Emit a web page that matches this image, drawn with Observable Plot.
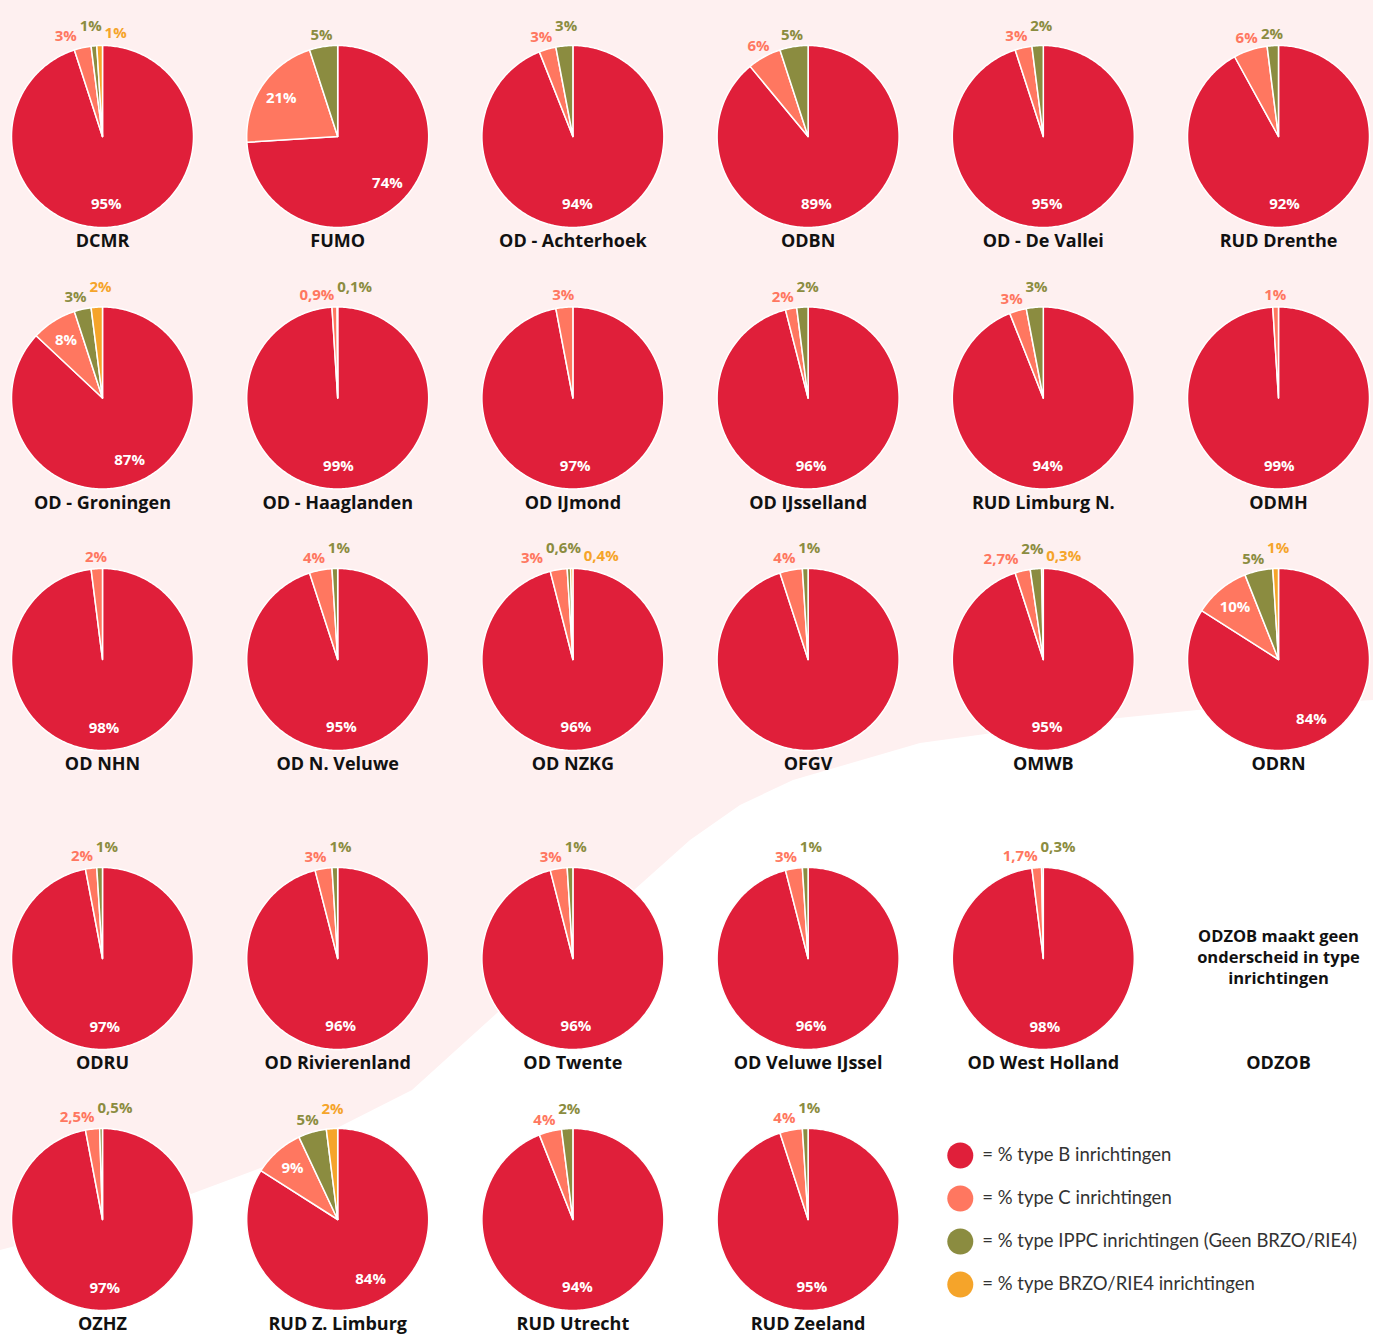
<!DOCTYPE html>
<html><head><meta charset="utf-8">
<script src="https://cdn.jsdelivr.net/npm/d3@7"></script>
<script src="https://cdn.jsdelivr.net/npm/@observablehq/plot@0.6"></script>
<style>
body{margin:0;background:#fff;}
#wrap{position:relative;width:1373px;height:1334px;overflow:hidden;}
#blob{position:absolute;left:0;top:0;width:1373px;height:1334px;background:#FEF0F0;
clip-path:polygon(0 0,1373px 0,1373px 700px,1197px 710px,1050px 725px,920px 743px,793px 780px,740px 805px,690px 840px,550px 965px,412px 1090px,333px 1130px,263px 1167px,175px 1200px,88px 1227px,0 1250px);}
#chart{position:absolute;left:0;top:0;}
</style></head>
<body><div id="wrap"><div id="blob"></div><div id="chart"></div></div>
<script>
// ---- data ----
const organisations = ["DCMR","FUMO","OD - Achterhoek","ODBN","OD - De Vallei","RUD Drenthe",
  "OD - Groningen","OD - Haaglanden","OD IJmond","OD IJsselland","RUD Limburg N.","ODMH",
  "OD NHN","OD N. Veluwe","OD NZKG","OFGV","OMWB","ODRN",
  "ODRU","OD Rivierenland","OD Twente","OD Veluwe IJssel","OD West Holland","ODZOB",
  "OZHZ","RUD Z. Limburg","RUD Utrecht","RUD Zeeland"];
const typeB    = [95,74,94,89,95,92, 87,99,97,96,94,99, 98,95,96,95,95,84, 97,96,96,96,98,null, 97,84,94,95];
const typeC    = [3,21,3,6,3,6, 8,0.9,3,2,3,1, 2,4,3,4,2.7,10, 2,3,3,3,1.7,null, 2.5,9,4,4];
const typeIPPC = [1,5,3,5,2,2, 3,0.1,0,2,3,0, 0,1,0.6,1,2,5, 1,1,1,1,0.3,null, 0.5,5,2,1];
const typeBRZO = [1,0,0,0,0,0, 2,0,0,0,0,0, 0,0,0.4,0,0.3,1, 0,0,0,0,0,null, 0,2,0,0];
const types = ["% type B inrichtingen","% type C inrichtingen","% type IPPC inrichtingen (Geen BRZO/RIE4)","% type BRZO/RIE4 inrichtingen"];
const colors = ["#E01F3A","#FF7760","#8B8C40","#F5A42A"];
const noDataNote = "ODZOB maakt geen\nonderscheid in type\ninrichtingen";
const hiddenMainLabel = ["OFGV"];

// ---- layout ----
const W = 1373, H = 1334, R = 91;
const colX = c => 102 + c * 235.2;
const rowY = [136, 397.5, 659, 958, 1219];
const fmt = v => (Number.isInteger(v) ? v : v.toFixed(1).replace(".", ",")) + "%";
const textW = s => [...s].reduce((a, ch) => a + (ch === "%" ? 13.3 : ch === "," ? 4.3 : 8.6), 0);

const slicePts = [], insideLabels = [], outsideLabels = [], names = [], notes = [];
organisations.forEach((name, i) => {
  const cx = colX(i % 6), cy = rowY[Math.floor(i / 6)];
  names.push({x: cx, y: cy + 105, name});
  if (typeB[i] == null) { notes.push({x: cx, y: cy - 2, text: noDataNote}); return; }
  const vals = [typeB[i], typeC[i], typeIPPC[i], typeBRZO[i]];
  const total = d3.sum(vals);
  let acc = 0;
  const outs = [];
  vals.forEach((v, k) => {
    if (!v) return;
    const a0 = acc / total * 2 * Math.PI, a1 = (acc + v) / total * 2 * Math.PI;
    acc += v;
    const id = i + "-" + k;
    slicePts.push({x: cx, y: cy, id, type: types[k]});
    const n = Math.max(2, Math.ceil((a1 - a0) / (Math.PI / 180)));
    for (let j = 0; j <= n; j++) {
      const a = a0 + (a1 - a0) * j / n;
      slicePts.push({x: cx + R * Math.sin(a), y: cy - R * Math.cos(a), id, type: types[k]});
    }
    let mid = (a0 + a1) / 2;
    const text = fmt(v);
    if (v >= 8) {
      if (k === 0 && v / total >= 0.88) mid = Math.PI - (Math.PI - mid) * 0.35;
      if (!(k === 0 && hiddenMainLabel.includes(name)))
        insideLabels.push({x: cx + 0.75 * R * Math.sin(mid), y: cy - 0.75 * R * Math.cos(mid), text});
    } else {
      const Ro = R + 12;
      outs.push({nx: Ro * Math.sin(mid), x: Ro * Math.sin(mid), y: -Ro * Math.cos(mid), w: textW(text), text, type: types[k]});
    }
  });
  // resolve overlaps of outside labels
  outs.sort((a, b) => a.nx - b.nx);
  let collided = false;
  for (let j = 1; j < outs.length; j++) {
    const p = outs[j - 1], c = outs[j];
    const minX = p.x + p.w / 2 + 3 + c.w / 2;
    if (c.x < minX) { c.x = minX; collided = true; }
  }
  if (collided) {
    const shift = d3.mean(outs, d => d.nx) - d3.mean(outs, d => d.x);
    outs.forEach((d, j) => { d.x += shift; if (j % 2 === 1) d.y -= 8; });
  }
  outs.forEach(d => outsideLabels.push({x: cx + d.x, y: cy + d.y, text: d.text, type: d.type}));
});

const legendX = colX(4) - 83, legendY0 = 1155, legendStep = 43;
const legend = types.map((t, k) => ({type: t, x: legendX, y: legendY0 + k * legendStep}));

const chart = Plot.plot({
  width: W, height: H,
  margin: 0,
  x: {domain: [0, W], range: [0, W], axis: null},
  y: {domain: [0, H], range: [0, H], axis: null},
  color: {domain: types, range: colors},
  style: {background: "transparent", fontFamily: "Open Sans"},
  marks: [
    Plot.line(slicePts, {x: "x", y: "y", z: "id", fill: "type", stroke: "white", strokeWidth: 1.5, strokeLinejoin: "round", curve: "linear-closed"}),
    Plot.text(insideLabels, {x: "x", y: "y", text: "text", fill: "white", fontSize: 15, fontWeight: "bold"}),
    Plot.text(outsideLabels, {x: "x", y: "y", text: "text", fill: "type", fontSize: 15, fontWeight: "bold"}),
    Plot.text(names, {x: "x", y: "y", text: "name", fill: "#111", fontSize: 18, fontWeight: "bold"}),
    Plot.text(notes, {x: "x", y: "y", text: "text", fill: "#111", fontSize: 16.5, fontWeight: "bold", lineHeight: 1.26}),
    Plot.dot(legend, {x: "x", y: "y", r: 13, fill: "type"}),
    Plot.text(legend, {x: d => d.x + 22, y: "y", text: d => "= " + d.type, textAnchor: "start", fill: "#333", fontSize: 18.5, fontFamily: "Lato"})
  ]
});
document.getElementById("chart").appendChild(chart);
</script>
</body></html>
